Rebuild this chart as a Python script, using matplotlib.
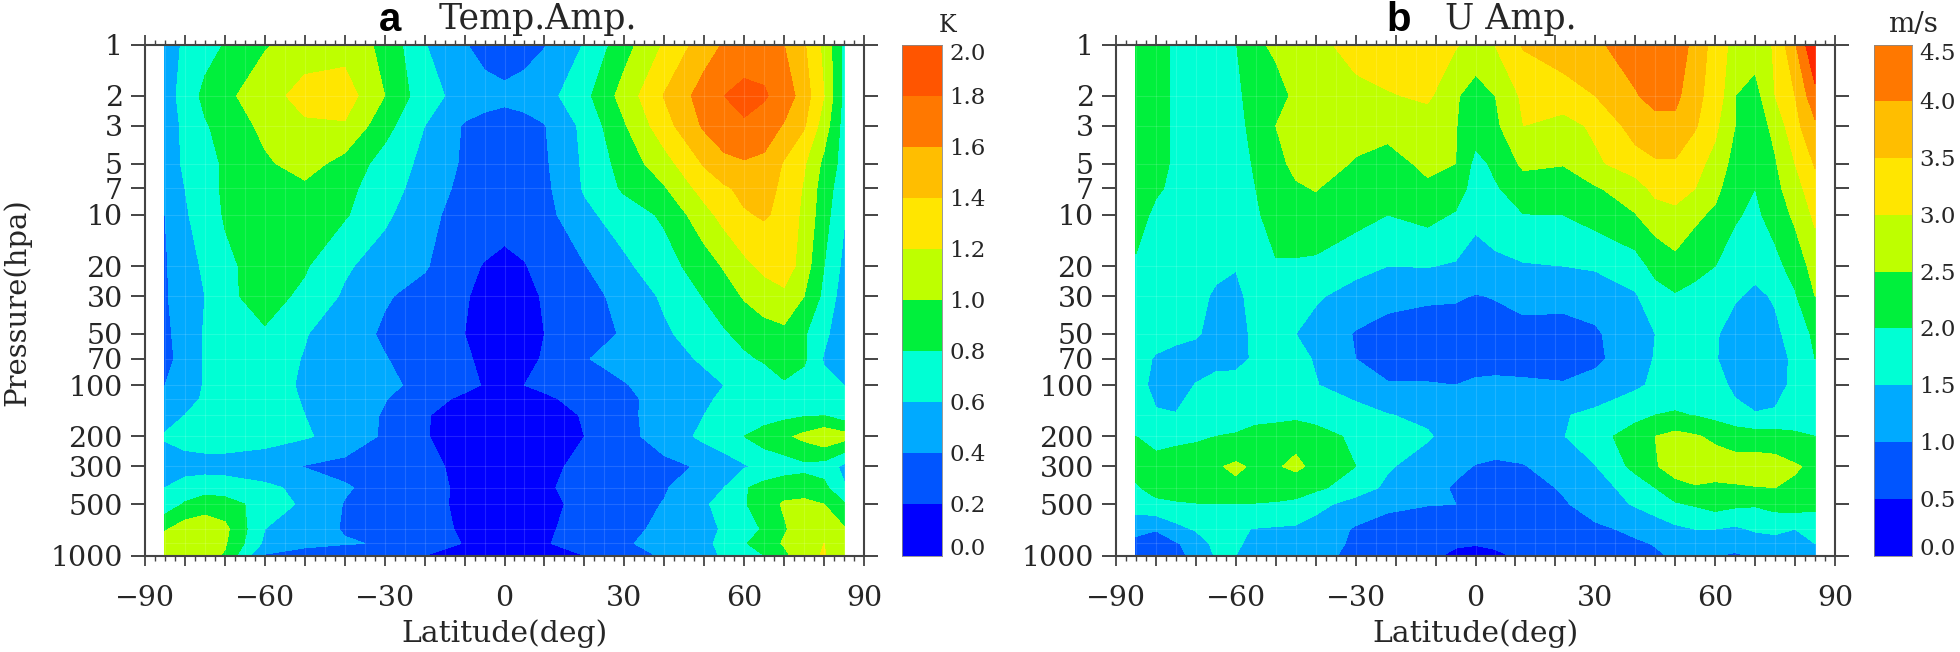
import numpy as np
import matplotlib
matplotlib.use('Agg')
import matplotlib.pyplot as plt

W, H = 1960, 652

p_ticks = [1, 2, 3, 5, 7, 10, 20, 30, 50, 70, 100, 200, 300, 500, 1000]
lat_ticks = [-90, -60, -30, 0, 30, 60, 90]
lat_labels = ['\u221290', '\u221260', '\u221230', '0', '30', '60', '90']

colors = ['#0000ff', '#0055ff', '#00aaff', '#00ffd4', '#00f03c',
          '#beff00', '#ffe600', '#ffbe00', '#ff7800', '#ff5500']

# panel a, temperature amplitude
p_a = [1, 2, 3, 5, 7, 10, 20, 30, 50, 70, 100, 120, 150, 200, 300, 400, 500, 700, 850, 1000]
lat_a = [-85, -80, -75, -70, -60, -50, -40, -30, -20, -10, -5, 0, 5, 10, 20, 30, 40, 50, 55, 60, 65, 70, 75, 80, 85]
temp_amp = [
    [.50, .63, .72, .81, .98, 1.10, 1.12, .95, .61, .41, .34, .30, .34, .39, .61, .92, 1.22, 1.50, 1.62, 1.70, 1.72, 1.60, 1.42, 1.15, .75],
    [.50, .68, .85, .95, 1.12, 1.27, 1.30, 1.00, .68, .52, .46, .44, .46, .52, .74, 1.08, 1.41, 1.69, 1.80, 1.85, 1.82, 1.72, 1.50, 1.20, .75],
    [.52, .63, .78, .87, 1.05, 1.17, 1.18, .87, .60, .38, .35, .33, .35, .39, .65, .98, 1.32, 1.63, 1.72, 1.78, 1.72, 1.58, 1.42, 1.10, .72],
    [.53, .62, .72, .83, .97, 1.08, .93, .72, .55, .37, .31, .28, .31, .37, .63, .88, 1.12, 1.42, 1.55, 1.58, 1.55, 1.38, 1.22, .95, .72],
    [.42, .60, .72, .83, .93, .96, .85, .70, .50, .35, .30, .27, .30, .35, .62, .83, .98, 1.28, 1.37, 1.45, 1.48, 1.35, 1.18, .90, .68],
    [.40, .58, .68, .82, .91, .92, .82, .64, .45, .33, .29, .26, .29, .33, .55, .70, .83, 1.13, 1.27, 1.38, 1.42, 1.35, 1.15, .88, .62],
    [.38, .52, .63, .75, .90, .82, .63, .50, .42, .24, .19, .16, .19, .26, .39, .56, .72, .90, 1.02, 1.15, 1.25, 1.32, 1.10, .80, .55],
    [.38, .50, .60, .76, .87, .76, .57, .42, .33, .21, .17, .14, .17, .21, .32, .47, .63, .81, .90, 1.02, 1.10, 1.15, 1.00, .75, .50],
    [.37, .46, .62, .70, .78, .61, .50, .37, .29, .20, .15, .12, .15, .20, .31, .42, .57, .70, .78, .85, .92, .95, .82, .65, .45],
    [.36, .45, .62, .66, .68, .59, .49, .41, .30, .22, .17, .15, .17, .21, .39, .46, .54, .62, .70, .77, .82, .88, .83, .58, .44],
    [.40, .47, .62, .64, .66, .58, .52, .44, .35, .24, .19, .18, .20, .24, .33, .39, .47, .56, .60, .65, .70, .78, .72, .66, .60],
    [.45, .52, .63, .65, .66, .59, .52, .41, .26, .17, .15, .14, .15, .17, .26, .37, .45, .58, .62, .66, .70, .76, .75, .72, .65],
    [.52, .60, .65, .67, .66, .60, .52, .38, .21, .14, .13, .12, .13, .14, .21, .36, .47, .60, .63, .66, .70, .75, .78, .79, .70],
    [.62, .67, .70, .70, .68, .62, .53, .37, .21, .13, .11, .10, .11, .13, .20, .35, .47, .65, .72, .80, .90, .96, 1.05, 1.15, 1.08],
    [.50, .52, .52, .52, .48, .39, .34, .30, .23, .17, .14, .13, .14, .17, .23, .30, .36, .42, .50, .58, .65, .70, .75, .72, .55],
    [.60, .68, .72, .70, .64, .55, .42, .33, .25, .17, .14, .13, .15, .18, .25, .33, .38, .55, .60, .78, .87, .92, .90, .85, .62],
    [.68, .82, .90, .88, .72, .56, .39, .32, .26, .16, .16, .15, .16, .16, .24, .31, .41, .57, .68, .78, .92, 1.02, 1.05, 1.00, .82],
    [.98, 1.10, 1.13, 1.05, .60, .46, .39, .33, .28, .17, .17, .16, .18, .17, .27, .34, .45, .55, .62, .72, .82, .98, 1.10, 1.12, 1.02],
    [1.10, 1.15, 1.15, 1.02, .56, .44, .41, .39, .30, .19, .18, .17, .18, .18, .30, .38, .46, .56, .65, .78, .90, 1.02, 1.15, 1.20, 1.08],
    [1.10, 1.12, 1.08, .98, .38, .33, .30, .28, .20, .16, .13, .12, .13, .16, .20, .33, .42, .55, .62, .70, .80, .95, 1.12, 1.22, 1.00],
]
levels_a = [0, .2, .4, .6, .8, 1.0, 1.2, 1.4, 1.6, 1.8, 2.0]

# panel b, zonal wind amplitude
p_b = [1, 2, 3, 5, 7, 10, 20, 30, 50, 70, 100, 150, 200, 300, 400, 500, 700, 850, 1000]
lat_b = [-85, -80, -75, -70, -65, -60, -55, -50, -45, -40, -30, -22, -12, -5, 0, 5, 12, 22, 30, 40, 45, 50, 55, 60, 65, 70, 75, 80, 85]
wind_amp = [
    [2.3, 2.1, 1.95, 1.85, 1.85, 1.98, 2.45, 2.55, 2.7, 2.85, 3.2, 3.4, 3.4, 3.05, 2.8, 3.02, 3.55, 3.75, 3.9, 4.3, 4.4, 4.2, 3.9, 3.25, 2.85, 2.75, 3.05, 3.95, 5.0],
    [2.3, 2.1, 1.95, 1.8, 1.8, 1.9, 2.2, 2.4, 2.55, 2.72, 2.85, 2.95, 3.1, 2.55, 2.3, 2.5, 3.1, 3.3, 3.5, 3.95, 4.2, 4.15, 3.6, 3.35, 2.5, 2.3, 3.0, 3.5, 4.35],
    [2.3, 2.1, 1.95, 1.8, 1.78, 1.85, 2.15, 2.5, 2.58, 2.7, 2.72, 2.72, 2.72, 2.52, 2.25, 2.4, 3.0, 2.8, 3.1, 3.7, 3.8, 3.85, 3.55, 3.1, 2.5, 2.2, 2.65, 3.35, 3.9],
    [2.25, 2.1, 1.95, 1.78, 1.75, 1.82, 2.05, 2.38, 2.6, 2.75, 2.45, 2.25, 2.65, 2.5, 1.85, 2.1, 2.6, 2.52, 2.9, 3.3, 3.45, 3.45, 3.15, 2.85, 2.3, 2.05, 2.45, 3.0, 3.55],
    [2.2, 2.05, 1.92, 1.75, 1.72, 1.78, 2.0, 2.25, 2.45, 2.52, 2.28, 2.12, 2.38, 2.3, 1.75, 1.95, 2.25, 2.3, 2.45, 2.75, 3.15, 3.25, 3.0, 2.65, 2.15, 2.0, 2.35, 2.8, 3.3],
    [2.15, 1.92, 1.75, 1.68, 1.68, 1.75, 1.95, 2.15, 2.25, 2.35, 2.15, 2.0, 2.15, 1.95, 1.62, 1.78, 1.99, 2.0, 2.2, 2.48, 2.75, 2.85, 2.6, 2.4, 2.05, 1.9, 2.2, 2.6, 3.1],
    [1.95, 1.85, 1.72, 1.62, 1.58, 1.52, 1.8, 1.97, 1.95, 1.9, 1.7, 1.5, 1.52, 1.45, 1.3, 1.38, 1.46, 1.5, 1.55, 1.78, 2.15, 2.35, 2.15, 2.0, 1.8, 1.65, 1.85, 2.2, 2.7],
    [1.85, 1.75, 1.65, 1.6, 1.45, 1.4, 1.65, 1.7, 1.65, 1.58, 1.25, 1.15, 1.08, 1.05, .98, 1.02, 1.08, 1.15, 1.25, 1.45, 1.8, 1.95, 1.85, 1.75, 1.55, 1.4, 1.55, 1.95, 2.5],
    [1.8, 1.7, 1.62, 1.55, 1.35, 1.3, 1.62, 1.62, 1.5, 1.28, .97, .82, .75, .78, .75, .85, .92, .82, .92, 1.38, 1.5, 1.6, 1.6, 1.55, 1.3, 1.2, 1.4, 1.7, 2.1],
    [1.7, 1.45, 1.35, 1.3, 1.35, 1.3, 1.6, 1.7, 1.6, 1.47, 1.0, .72, .65, .72, .8, .82, .75, .7, .88, 1.35, 1.52, 1.68, 1.6, 1.53, 1.3, 1.15, 1.3, 1.6, 2.0],
    [1.7, 1.35, 1.3, 1.52, 1.65, 1.75, 1.75, 1.7, 1.62, 1.52, 1.28, 1.05, 1.05, 1.0, 1.08, 1.1, 1.1, 1.05, 1.2, 1.42, 1.58, 1.7, 1.75, 1.75, 1.35, 1.1, 1.2, 1.7, 2.0],
    [1.8, 1.55, 1.52, 1.62, 1.8, 1.75, 1.82, 1.85, 1.88, 1.82, 1.68, 1.52, 1.4, 1.3, 1.25, 1.25, 1.3, 1.47, 1.6, 1.85, 2.0, 2.05, 1.98, 1.85, 1.7, 1.55, 1.6, 1.75, 1.95],
    [2.0, 1.8, 1.85, 1.9, 2.0, 2.05, 2.2, 2.25, 2.35, 2.2, 1.9, 1.75, 1.55, 1.3, 1.25, 1.25, 1.3, 1.48, 1.8, 2.25, 2.5, 2.65, 2.55, 2.4, 2.25, 2.22, 2.2, 2.08, 2.0],
    [2.15, 2.2, 2.3, 2.38, 2.45, 2.58, 2.42, 2.45, 2.6, 2.38, 2.0, 1.55, 1.28, 1.1, .98, .92, .97, 1.25, 1.48, 2.15, 2.45, 2.75, 2.8, 2.75, 2.72, 2.75, 2.7, 2.55, 2.4],
    [1.95, 2.15, 2.2, 2.25, 2.3, 2.4, 2.25, 2.25, 2.2, 2.1, 1.75, 1.4, 1.15, .95, .78, .72, .8, 1.05, 1.3, 1.7, 2.0, 2.3, 2.45, 2.4, 2.45, 2.48, 2.5, 2.42, 2.3],
    [1.8, 1.9, 1.95, 1.98, 1.98, 1.98, 1.98, 1.95, 1.9, 1.65, 1.3, 1.15, 1.02, 1.0, .75, .65, .72, .95, 1.2, 1.55, 1.75, 1.95, 2.05, 2.2, 2.1, 2.05, 2.2, 2.25, 2.15],
    [1.05, 1.02, 1.35, 1.55, 1.6, 1.55, 1.48, 1.45, 1.42, 1.3, .95, .72, .72, .62, .6, .58, .62, .75, .92, 1.08, 1.22, 1.4, 1.5, 1.5, 1.42, 1.55, 1.55, 1.5, 1.6],
    [.95, .85, .95, 1.2, 1.65, 1.6, 1.3, 1.3, 1.25, 1.22, .92, .78, .65, .55, .52, .55, .68, .75, .8, .95, 1.02, 1.1, 1.2, 1.22, 1.15, 1.3, 1.42, 1.35, 1.5],
    [.8, .72, .9, 1.1, 1.55, 1.5, 1.2, 1.15, 1.12, 1.12, .9, .72, .6, .42, .4, .45, .55, .62, .72, .85, .95, 1.05, 1.02, 1.02, .95, 1.05, 1.15, 1.1, 1.35],
]
levels_b = [0, .5, 1.0, 1.5, 2.0, 2.5, 3.0, 3.5, 4.0, 4.5]

plt.rcParams['font.family'] = ['DejaVu Serif']
axis_col = '#444444'
text_col = '#262626'
fig = plt.figure(figsize=(W / 100, H / 100), dpi=100)


def box(x0, y0, x1, y1):
    return [x0 / W, 1 - y1 / H, (x1 - x0) / W, (y1 - y0) / H]


def panel(x0, x1, cx0, cx1, lat, pres, vals, levels, cols, over):
    ax = fig.add_axes(box(x0, 44.5, x1, 555.5))
    yy = np.log10(pres)
    cf = ax.contourf(lat, yy, np.array(vals), levels=levels, colors=cols, extend='max' if over else 'neither')
    if over:
        cf.cmap.set_over(over)
        cf.changed()
    # faint light lines of the data grid
    ax.vlines(np.arange(-85, 86, 5), 0, 3, color='white', lw=.8, alpha=.13)
    ax.hlines(yy, -85, 85, color='white', lw=.8, alpha=.13)
    ax.set_xlim(-90, 90)
    ax.set_ylim(3, 0)
    ax.set_xticks(np.arange(-90, 91, 10))
    ax.set_xticklabels([lat_labels[lat_ticks.index(t)] if t in lat_ticks else '' for t in range(-90, 91, 10)])
    ax.set_xticks(np.arange(-90, 90.1, 2.5), minor=True)
    ax.set_yticks(np.log10(p_ticks))
    ax.set_yticklabels([str(p) for p in p_ticks])
    ax.tick_params(axis='x', which='major', direction='out', length=7.2, width=1.3, color=axis_col,
                   top=True, labelsize=20.5, pad=14, labelcolor=text_col)
    ax.tick_params(axis='x', which='minor', direction='out', length=3.6, width=1.0, color=axis_col, top=True)
    ax.tick_params(axis='y', direction='out', length=10, width=1.4, color=axis_col, right=True,
                   labelsize=20.5, pad=6, labelcolor=text_col)
    for s in ax.spines.values():
        s.set_color(axis_col)
        s.set_linewidth(1.5)
    ax.set_xlabel('Latitude(deg)', fontsize=21.5, color=text_col, labelpad=5)

    cax = fig.add_axes(box(cx0, 44.5, cx1, 555.5))
    for i, c in enumerate(cols):
        cax.bar(0, levels[i + 1] - levels[i], bottom=levels[i], width=1, color=c)
    cax.set_xlim(-.5, .5)
    cax.set_ylim(0, levels[-1])
    cax.set_xticks([])
    cax.set_yticks([])
    for s in cax.spines.values():
        s.set_color('#888888')
        s.set_linewidth(.6)
    for i, v in enumerate(levels):
        dy = -1.5
        if i == 0:
            dy = 5
        if i == len(levels) - 1:
            dy = -6.5
        cax.annotate('%.1f' % v, (1, v), xycoords=('axes fraction', 'data'), xytext=(5.5, dy),
                     textcoords='offset points', va='center', ha='left', fontsize=16.5, color=text_col)
    return ax


panel(145, 864, 902, 942, lat_a, p_a, temp_amp, levels_a, colors, None)
panel(1116, 1835, 1874, 1912, lat_b, p_b, wind_amp, levels_b, colors[:9], '#ff2800')

fig.text(17 / W, 1 - 302 / H, 'Pressure(hpa)', fontsize=21, color=text_col, rotation=90, ha='center', va='center')
fig.text(390 / W, 1 - 31 / H, 'a', fontsize=29, fontweight='bold', family='Liberation Sans', ha='center', va='baseline')
fig.text(538 / W, 1 - 29 / H, 'Temp.Amp.', fontsize=25, color=text_col, ha='center', va='baseline')
fig.text(1399 / W, 1 - 31 / H, 'b', fontsize=29, fontweight='bold', family='Liberation Sans', ha='center', va='baseline')
fig.text(1511 / W, 1 - 29 / H, 'U Amp.', fontsize=25, color=text_col, ha='center', va='baseline')
fig.text(948 / W, 1 - 25 / H, 'K', fontsize=17, color=text_col, ha='center', va='center')
fig.text(1913 / W, 1 - 25 / H, 'm/s', fontsize=20, color=text_col, ha='center', va='center')

fig.savefig('out.png', dpi=100)
